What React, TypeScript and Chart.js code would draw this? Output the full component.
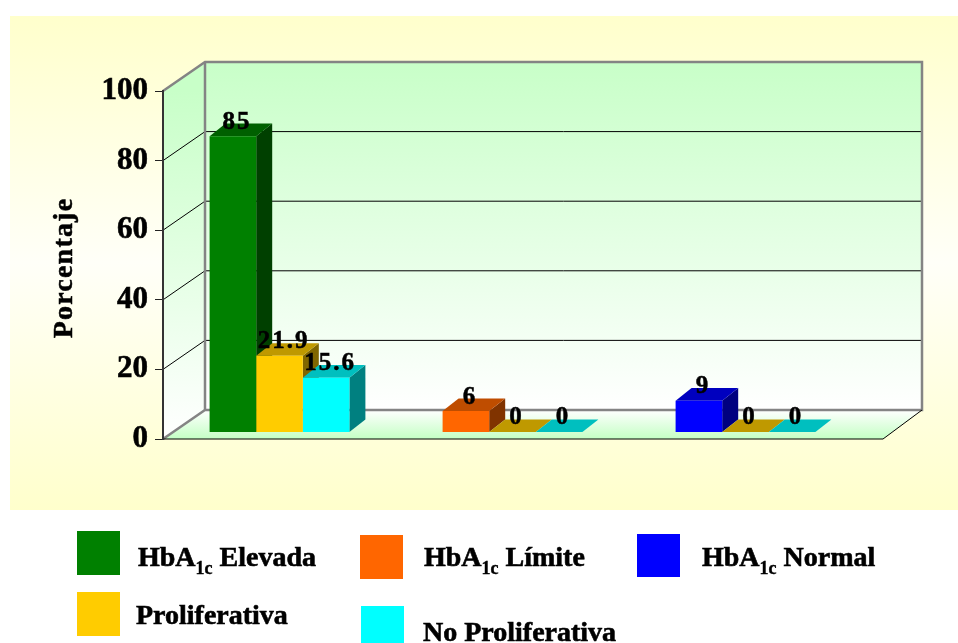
import React, { useEffect, useRef } from "react";
import { Chart, registerables } from "chart.js";

Chart.register(...registerables);

const categories = ["Elevada", "Límite", "Normal"];
const hba1cValues = [85, 6, 9];
const proliferativaValues = [21.9, 0, 0];
const noProliferativaValues = [15.6, 0, 0];
const yTickStep = 20;
const yAxisTitle = "Porcentaje";

const hba1cColors = ["#008000", "#FF6600", "#0000FF"];
const proliferativaColor = "#FFCC00";
const noProliferativaColor = "#00FFFF";

const SERIF = '"Liberation Serif", "Times New Roman", serif';

// Oblique projection used for the box walls and for the bar tops and sides.
const BOX_DX = 42;
const BOX_DY = 29;
const BAR_DX = 16;
const BAR_DY = 12.6;
const FLOOR_RIGHT_EXTRA = 21;
const BAR_PLANE_OFFSET = 7; // px the bars stand behind the front edge of the floor
const PX_PER_UNIT = 3.48;

type LegendEntry = { color: string; lead: string; sub?: string; tail?: string };
const legendEntries: LegendEntry[] = [
  { color: "#008000", lead: "HbA", sub: "1c", tail: " Elevada" },
  { color: "#FF6600", lead: "HbA", sub: "1c", tail: " Límite" },
  { color: "#0000FF", lead: "HbA", sub: "1c", tail: " Normal" },
  { color: "#FFCC00", lead: "Proliferativa" },
  { color: "#00FFFF", lead: "No Proliferativa" },
];
const legendBoxes = [
  { x: 77, y: 531, w: 43, h: 44, tx: 138, ty: 566 },
  { x: 360, y: 535, w: 43, h: 44, tx: 424, ty: 566 },
  { x: 637, y: 534, w: 43, h: 43, tx: 702, ty: 566 },
  { x: 77, y: 592, w: 43, h: 44, tx: 136, ty: 624 },
  { x: 361, y: 606, w: 43, h: 37, tx: 423, ty: 641 },
];

function shade(hex: string, f: number): string {
  const n = parseInt(hex.slice(1), 16);
  const r = Math.round(((n >> 16) & 255) * f);
  const g = Math.round(((n >> 8) & 255) * f);
  const b = Math.round((n & 255) * f);
  return `rgb(${r},${g},${b})`;
}

function poly(ctx: CanvasRenderingContext2D, pts: number[][], fill: string | CanvasGradient) {
  ctx.beginPath();
  pts.forEach((p, i) => (i ? ctx.lineTo(p[0], p[1]) : ctx.moveTo(p[0], p[1])));
  ctx.closePath();
  ctx.fillStyle = fill;
  ctx.fill();
}

function segment(ctx: CanvasRenderingContext2D, pts: number[][], color: string, width: number) {
  ctx.beginPath();
  pts.forEach((p, i) => (i ? ctx.lineTo(p[0], p[1]) : ctx.moveTo(p[0], p[1])));
  ctx.strokeStyle = color;
  ctx.lineWidth = width;
  ctx.stroke();
}

// Heavy bold text: fill plus a hairline outline.
function boldText(ctx: CanvasRenderingContext2D, text: string, x: number, y: number, outline: number) {
  ctx.fillText(text, x, y);
  ctx.lineWidth = outline;
  ctx.strokeStyle = "#000";
  ctx.strokeText(text, x, y);
}

const boxPlugin = {
  id: "box3d",
  beforeDraw(chart: any) {
    const { ctx, chartArea, scales } = chart;
    const y = scales.y;
    const left = chartArea.left;
    const right = chartArea.right + FLOOR_RIGHT_EXTRA;
    const y0 = y.getPixelForValue(0);
    const yMax = y.getPixelForValue(100);
    ctx.save();

    // Yellow panel behind the plot.
    const panel = ctx.createLinearGradient(0, 16, 0, 510);
    panel.addColorStop(0, "#FFFFCC");
    panel.addColorStop(0.5, "#FFFFF8");
    panel.addColorStop(1, "#FFFFCC");
    ctx.fillStyle = panel;
    ctx.fillRect(10, 16, 948, 494);

    // Walls and floor.
    const back = ctx.createLinearGradient(0, yMax - BOX_DY, 0, y0 - BOX_DY);
    back.addColorStop(0, "#C8FFC8");
    back.addColorStop(1, "#FFFFFF");
    poly(ctx, [
      [left + BOX_DX, yMax - BOX_DY], [right + BOX_DX - 3, yMax - BOX_DY],
      [right + BOX_DX - 3, y0 - BOX_DY], [left + BOX_DX, y0 - BOX_DY],
    ], back);
    const side = ctx.createLinearGradient(0, yMax, 0, y0);
    side.addColorStop(0, "#C8FFC8");
    side.addColorStop(1, "#FFFFFF");
    poly(ctx, [
      [left, yMax], [left + BOX_DX, yMax - BOX_DY], [left + BOX_DX, y0 - BOX_DY], [left, y0],
    ], side);
    const floor = ctx.createLinearGradient(0, y0 - BOX_DY, 0, y0);
    floor.addColorStop(0, "#FFFFFF");
    floor.addColorStop(1, "#C4FFC4");
    poly(ctx, [
      [left, y0], [left + BOX_DX, y0 - BOX_DY], [right + BOX_DX - 3, y0 - BOX_DY], [right, y0],
    ], floor);

    // Gridlines run along the side wall and across the back wall.
    y.ticks.forEach((t: any) => {
      if (t.value === 0 || t.value === 100) return;
      const py = y.getPixelForValue(t.value);
      segment(ctx, [[left, py], [left + BOX_DX, py - BOX_DY], [right + BOX_DX - 3, py - BOX_DY]], "#000", 1);
    });

    // Grey frame of the box.
    const grey = "#848484";
    segment(ctx, [[left, yMax], [left + BOX_DX, yMax - BOX_DY], [right + BOX_DX - 3, yMax - BOX_DY], [right + BOX_DX - 3, y0 - BOX_DY], [left + BOX_DX, y0 - BOX_DY], [left, y0]], grey, 2.5);
    segment(ctx, [[left + BOX_DX, yMax - BOX_DY], [left + BOX_DX, y0 - BOX_DY]], grey, 2.5);

    // Floor edges.
    segment(ctx, [[left, y0], [right, y0], [right + BOX_DX - 3, y0 - BOX_DY]], "#000", 1);
    ctx.restore();
  },
  // Tops and sides go down first, left to right, so that every front face lands over them.
  beforeDatasetsDraw(chart: any) {
    const ctx = chart.ctx;
    ctx.save();
    categories.forEach((_, i) => {
      chart.data.datasets.forEach((ds: any, di: number) => {
        const bar = chart.getDatasetMeta(di).data[i];
        const color = Array.isArray(ds.backgroundColor) ? ds.backgroundColor[i] : ds.backgroundColor;
        const l = bar.x - bar.width / 2;
        const r = bar.x + bar.width / 2;
        if (bar.base - bar.y > 0.5) {
          poly(ctx, [[r, bar.y], [r + BAR_DX, bar.y - BAR_DY], [r + BAR_DX, bar.base - BAR_DY], [r, bar.base]], shade(color, 0.5));
        }
        poly(ctx, [[l, bar.y], [l + BAR_DX, bar.y - BAR_DY], [r + BAR_DX, bar.y - BAR_DY], [r, bar.y]], shade(color, 0.75));
      });
    });
    ctx.restore();
  },
  afterDatasetsDraw(chart: any) {
    const ctx = chart.ctx;
    ctx.save();
    ctx.font = `bold 25px ${SERIF}`;
    ctx.fillStyle = "#000";
    ctx.textAlign = "center";
    ctx.textBaseline = "middle";
    (ctx as any).letterSpacing = "2px";
    chart.data.datasets.forEach((ds: any, di: number) => {
      chart.getDatasetMeta(di).data.forEach((bar: any, i: number) => {
        boldText(ctx, String(ds.data[i]), bar.x + 4, bar.y - 14, 0.5);
      });
    });
    (ctx as any).letterSpacing = "0px";

    // Axis title.
    ctx.save();
    ctx.translate(65, 268);
    ctx.rotate(-Math.PI / 2);
    ctx.font = `bold 28px ${SERIF}`;
    (ctx as any).letterSpacing = "1.2px";
    boldText(ctx, yAxisTitle, 0, 0, 0.5);
    ctx.restore();
    ctx.restore();
  },
  afterDraw(chart: any) {
    const ctx = chart.ctx;
    ctx.save();
    ctx.textBaseline = "alphabetic";
    ctx.textAlign = "left";
    legendEntries.forEach((e, i) => {
      const b = legendBoxes[i];
      ctx.fillStyle = e.color;
      ctx.fillRect(b.x, b.y, b.w, b.h);
      ctx.fillStyle = "#000";
      let x = b.tx;
      ctx.font = `bold 28px ${SERIF}`;
      boldText(ctx, e.lead, x, b.ty, 0.6);
      x += ctx.measureText(e.lead).width;
      if (e.sub) {
        ctx.font = `bold 18px ${SERIF}`;
        boldText(ctx, e.sub, x, b.ty + 8, 0.4);
        x += ctx.measureText(e.sub).width;
      }
      if (e.tail) {
        ctx.font = `bold 28px ${SERIF}`;
        boldText(ctx, e.tail, x, b.ty, 0.6);
      }
    });
    ctx.restore();
  },
};

export default function App() {
  const ref = useRef<HTMLCanvasElement>(null);

  useEffect(() => {
    const chart = new Chart(ref.current!, {
      type: "bar",
      data: {
        labels: categories,
        datasets: [
          { label: "HbA1c", data: hba1cValues, backgroundColor: hba1cColors, yAxisID: "yBars" },
          { label: "Proliferativa", data: proliferativaValues, backgroundColor: proliferativaColor, yAxisID: "yBars" },
          { label: "No Proliferativa", data: noProliferativaValues, backgroundColor: noProliferativaColor, yAxisID: "yBars" },
        ],
      },
      options: {
        responsive: false,
        animation: false,
        layout: { padding: { top: 91, bottom: 204, right: 96, left: 0 } },
        plugins: { legend: { display: false }, tooltip: { enabled: false } },
        datasets: { bar: { categoryPercentage: 0.6, barPercentage: 1, borderWidth: 0 } },
        scales: {
          x: { display: false },
          y: {
            position: "left",
            min: 0,
            max: 100,
            afterFit(axis: any) {
              axis.width = 163;
            },
            ticks: {
              stepSize: yTickStep,
              color: "#000",
              padding: 7,
              textStrokeColor: "#000",
              textStrokeWidth: 0.6,
              font: { family: SERIF, size: 31, weight: "bold" },
            },
            border: { color: "#333", width: 2 },
            grid: { drawOnChartArea: false, drawTicks: true, tickLength: 8, color: "#222", lineWidth: 1 },
          },
          // Same pixel density as the visible axis, but its zero sits on the plane the bars stand on.
          yBars: {
            display: false,
            position: "left",
            min: -BAR_PLANE_OFFSET / PX_PER_UNIT,
            max: 100 - BAR_PLANE_OFFSET / PX_PER_UNIT,
          },
        },
      },
      plugins: [boxPlugin],
    } as any);
    return () => chart.destroy();
  }, []);

  return (
    <canvas
      ref={ref}
      width={958}
      height={643}
      style={{ position: "absolute", left: 0, top: 0, display: "block", background: "#fff" }}
    />
  );
}
